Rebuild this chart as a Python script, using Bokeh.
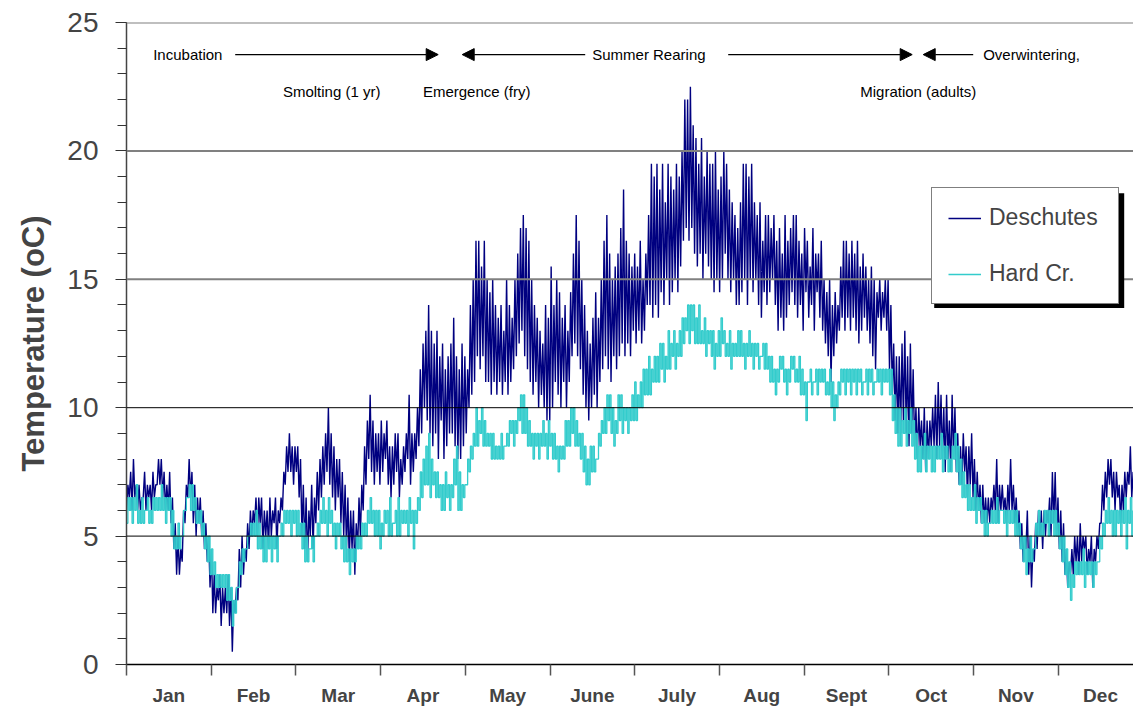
from bokeh.plotting import figure
from bokeh.models import (Range1d, FixedTicker, Span, Arrow, NormalHead, Label,
                          Legend, LegendItem, BoxAnnotation)
from bokeh.embed import file_html
from bokeh.resources import INLINE

MONTHS = ["Jan", "Feb", "Mar", "Apr", "May", "June", "July", "Aug", "Sept", "Oct", "Nov", "Dec"]
DAYS_PER_MONTH = 365 / 12
Y_TICKS = [0, 5, 10, 15, 20, 25]

# Deschutes: daily low / high (deg C)
DES_LO = [6, 6.5, 6, 6.5, 6, 6, 6.5, 6, 6.5, 6,
          6.5, 7, 7, 6.5, 6, 6, 5.5, 4.5, 3.5, 3.5,
          4, 5.5, 6.5, 6.5, 5.5, 5, 5.5, 5, 4.5, 4,
          3, 2, 2, 2.5, 1.5, 2, 2, 1.5, 0.5, 2,
          2.5, 3, 3.5, 4, 4.5, 5, 5.5, 5, 5.5, 4.5,
          5, 4.5, 5, 5.5, 4.5, 5.5, 6, 7, 7.5, 7.5,
          7, 7.5, 6.5, 5, 4.5, 4, 5, 4.5, 5.5, 6,
          6.5, 7, 7.5, 7, 6.5, 6, 6.5, 5.5, 5, 4.5,
          4, 4.5, 3.5, 4.5, 5, 6, 7, 8, 7.5, 7,
          7.5, 7, 7.5, 8, 7, 6.5, 7, 7.5, 6.5, 7,
          7.5, 8, 7, 7.5, 8, 8.5, 9, 10, 9.5, 9,
          8.5, 9, 8, 9.5, 8, 8.5, 9, 9, 8.5, 8,
          8, 8.5, 9, 10, 10.5, 11, 12, 11.5, 12, 11,
          11, 10.5, 11, 10.5, 11, 10.5, 11, 10.5, 11, 11.5,
          12, 12.5, 13, 12, 11.5, 11, 10.5, 11, 10, 10.5,
          10, 9.5, 9.5, 10, 11, 10.5, 10, 11, 10, 11,
          12, 12.5, 12, 11.5, 10.5, 10, 9.5, 10, 10.5, 10,
          11, 11.5, 12, 11.5, 11, 12, 11.5, 12, 12.5, 12,
          12.5, 12, 13, 12.5, 13, 12.5, 13, 14, 14, 13.5,
          14, 13.5, 14.5, 14, 15, 14, 14.5, 15, 14.5, 15.5,
          16.5, 17, 16.5, 17, 16, 15.5, 16, 15, 16, 15.5,
          15, 14.5, 15, 14.5, 15, 16, 15, 14.5, 15, 14,
          14, 14.5, 15, 14, 15, 14.5, 15, 14, 13.5, 14.5,
          14, 14.5, 15, 14, 13, 13.5, 13, 13.5, 14, 14.5,
          14, 13.5, 14, 13, 14.5, 13.5, 14, 13, 14.5, 13.5,
          13, 12.5, 12, 11, 12, 12.5, 13, 13.5, 13, 13.5,
          13, 13.5, 13, 12.5, 13, 13.5, 13, 12.5, 12, 11.5,
          13.5, 13, 13.5, 13, 11.5, 10.5, 9.5, 9, 9, 9.5,
          9, 8.5, 9, 8.5, 8, 8.5, 8, 7.5, 8, 8.5,
          8.5, 8, 8.5, 8, 7.5, 8, 7.5, 8, 7.5, 7,
          7, 7.5, 6.5, 7, 6.5, 6, 6, 5.5, 5.5, 5.5,
          5.5, 6, 6, 5.5, 6, 6, 5.5, 6, 6, 5.5,
          5, 4.5, 4, 4.5, 3.5, 3, 4, 4.5, 5, 4.5,
          5, 5.5, 5, 5.5, 5, 4.5, 4, 3.5, 3, 3.5,
          3.5, 4, 3.5, 4, 4.5, 3.5, 4, 3, 4, 4.5,
          5.5, 6, 6.5, 7, 6.5, 6, 6.5, 5.5, 6, 6.5, 7, 6.5]
DES_HI = [7, 7.5, 8, 7, 7, 6.5, 7.5, 7, 7, 7.5,
          7, 8, 8, 7.5, 7, 7.5, 6.5, 5.5, 5, 4.5,
          6, 7, 8, 7.5, 7, 6.5, 6.5, 6, 5.5, 5,
          4.5, 3.5, 3, 3.5, 3, 3, 3.5, 3, 2.5, 3,
          4.5, 5, 4.5, 5.5, 6, 6, 6.5, 6.5, 6.5, 6,
          6, 6.5, 6, 6.5, 6, 6.5, 7.5, 8.5, 9, 8.5,
          8.5, 8.5, 8, 7, 6.5, 6, 7, 6.5, 7.5, 8,
          8.5, 9, 10, 9, 8.5, 8, 8, 7.5, 7, 6.5,
          6, 6, 5.5, 6.5, 7, 8.5, 9.5, 10.5, 9.5, 9,
          9, 9.5, 9, 9.5, 8.5, 8.5, 9, 9, 8, 8.5,
          9, 10.5, 9, 9, 10, 11.5, 12.5, 13, 14, 13,
          12.5, 13, 12, 12.5, 11.5, 12, 12.5, 13.5, 12, 11.5,
          12.5, 12, 11.5, 14, 15, 16.5, 16.5, 15.5, 16.5, 15,
          14.5, 15, 14, 13.5, 14, 13, 15, 14, 13.5, 15,
          16, 17, 17.5, 17, 16.5, 15, 14, 13.5, 13, 12.5,
          14, 13.5, 15.5, 14, 15, 14.5, 13.5, 14, 13, 14.5,
          16, 17.5, 16.5, 15, 14, 13, 12.5, 13.5, 14.5, 13.5,
          15, 16.5, 17.5, 16, 15, 15.5, 16, 17, 18.5, 16.5,
          16, 15.5, 16, 15.5, 16.5, 15, 16, 17.5, 19.5, 19,
          19.5, 18.5, 19.5, 18, 19.5, 19, 18.5, 19.5, 19, 20,
          22, 22, 22.5, 21, 20.5, 19.5, 20.5, 19, 20, 19.5,
          19.5, 20, 18.5, 19, 20, 19.5, 18.5, 18, 17.5, 17,
          18, 19.5, 19.5, 19, 19.5, 18, 17.5, 18, 16.5, 17.5,
          17.5, 17, 17.5, 16.5, 17, 16, 17.5, 16.5, 17, 17.5,
          17.5, 16.5, 16, 17, 16.5, 15.5, 17, 16, 16, 16.5,
          15, 14.5, 15, 14, 14.5, 14, 15.5, 16.5, 16.5, 16,
          16.5, 16, 16.5, 15.5, 16, 15.5, 15, 15.5, 15, 14.5,
          15, 14.5, 15, 15, 14, 12.5, 12, 12, 12.5, 13,
          12, 12.5, 11.5, 10, 10, 9.5, 10, 9.5, 9.5, 10,
          10.5, 11, 10.5, 10, 10.5, 9.5, 10.5, 10, 9, 8.5,
          9, 8.5, 8.5, 9, 8, 7.5, 7, 7, 6.5, 6.5,
          6.5, 7, 8, 7, 7, 6.5, 7, 8, 7, 6.5,
          6, 5.5, 5, 6, 5, 4.5, 5.5, 6, 6, 6,
          6, 6.5, 7.5, 7.5, 6.5, 6, 5.5, 4.5, 4, 4.5,
          5, 5, 5.5, 5, 5, 4.5, 5, 4.5, 5, 5.5,
          7, 7.5, 8, 8, 7.5, 7.5, 7, 7, 7.5, 7.5, 8.5, 7.5]

# Hard Cr.: daily low / high (deg C)
HC_LO = [5.5, 6, 5.5, 6, 5.5, 5.5, 5.5, 6, 5.5, 5.5,
         6, 6, 6, 6, 5.5, 6, 5, 4.5, 4.5, 4.5,
         5, 6, 6.5, 6, 6, 5.5, 5.5, 5, 4.5, 4,
         3.5, 3.5, 3, 3, 3, 3, 2.5, 2.5, 1.5, 2,
         3, 3.5, 4, 4.5, 5, 5, 5, 4.5, 4.5, 4,
         4, 4.5, 4, 4.5, 4, 5, 5, 5.5, 5.5, 5,
         5.5, 5, 5, 4.5, 4, 4, 4.5, 4, 5, 5,
         5.5, 5.5, 5, 5.5, 5, 4.5, 5, 4.5, 4, 4,
         3.5, 4, 4, 4.5, 4.5, 5, 5, 5.5, 5.5, 5,
         5, 4.5, 5, 5.5, 5, 5, 5.5, 5, 5, 5.5,
         5.5, 5, 5.5, 4.5, 5.5, 6, 6.5, 7, 7, 6.5,
         7, 6.5, 6.5, 6, 6, 6.5, 6, 6.5, 7, 6,
         6, 6.5, 7, 7.5, 8, 8.5, 8.5, 9, 8.5, 8.5,
         8.5, 8, 8, 8, 8, 8, 8.5, 8.5, 9, 8.5,
         9, 9.5, 9, 9, 8.5, 8.5, 8, 8.5, 8, 8.5,
         8.5, 8, 8.5, 8, 8, 7.5, 8, 8, 8.5, 8.5,
         9, 8.5, 8.5, 8, 7.5, 7, 7, 7.5, 7.5, 8,
         8.5, 9, 9, 9.5, 9, 8.5, 9, 9.5, 9, 9.5,
         9, 9.5, 9.5, 9.5, 10, 10, 10.5, 10.5, 10.5, 11,
         11, 11, 11.5, 11, 11.5, 11.5, 12, 11.5, 12, 12,
         12.5, 13, 12.5, 13, 12.5, 12.5, 12.5, 12.5, 12, 12.5,
         12, 11.5, 12, 12, 12.5, 12, 12, 11.5, 12, 12,
         12, 12, 11.5, 12, 12, 11.5, 12, 11.5, 12, 11.5,
         11.5, 11, 11, 10.5, 11, 11.5, 11, 10.5, 11, 11.5,
         11, 11, 10.5, 10.5, 9.5, 11, 10.5, 11, 10.5, 11,
         11, 10.5, 10.5, 10, 9.5, 10, 10.5, 11, 10.5, 11,
         10.5, 11, 10.5, 11, 10.5, 11, 10.5, 11, 10.5, 11,
         11, 10.5, 11, 11, 10.5, 9.5, 9, 8.5, 8.5, 9,
         8.5, 9, 8.5, 8, 7.5, 7.5, 8, 7.5, 8, 7.5,
         7.5, 8, 8, 7.5, 8, 7.5, 7.5, 8, 7.5, 7,
         6.5, 6.5, 6, 6, 6, 5.5, 6, 5.5, 5, 5,
         5.5, 5.5, 5.5, 5.5, 6, 5.5, 5, 5.5, 5.5, 5,
         5, 4.5, 4, 3.5, 4, 4, 4.5, 5, 5, 5,
         5.5, 5, 5.5, 5, 5, 4.5, 4, 3.5, 3, 2.5,
         3, 3.5, 3.5, 3.5, 3, 3.5, 3.5, 3, 3.5, 4,
         4.5, 5, 5.5, 5.5, 5, 5, 5.5, 5, 5.5, 4.5, 5.5, 5]
HC_HI = [6.5, 6.5, 6.5, 7, 6, 6.5, 6, 6.5, 6, 6.5,
         6.5, 6.5, 7, 6.5, 6.5, 6.5, 6, 5, 5.5, 5,
         6, 6.5, 7, 7, 6.5, 6, 6, 5.5, 5, 5,
         4.5, 4, 3.5, 3.5, 3.5, 3.5, 3.5, 3, 2.5, 3,
         4, 4.5, 4.5, 5, 5.5, 5.5, 6, 5.5, 5, 5,
         5, 5, 5, 5, 5, 5.5, 6, 6, 6, 6,
         6, 6, 5.5, 5.5, 5, 4.5, 5, 5, 5.5, 6,
         6.5, 6, 6.5, 6, 5.5, 5.5, 5.5, 5, 5, 4.5,
         4.5, 4.5, 5, 5, 5.5, 5.5, 6, 6.5, 6, 6,
         6, 5.5, 6, 6, 6.5, 5.5, 6, 6.5, 6, 6,
         6, 6.5, 6, 6, 6.5, 7.5, 8, 8.5, 9, 8,
         7.5, 7.5, 7, 7, 7.5, 7, 7, 8, 8.5, 7.5,
         7, 7, 8, 8.5, 9, 10, 9.5, 10, 9.5, 9,
         9, 9, 8.5, 8.5, 9, 8.5, 9, 9.5, 9.5, 9.5,
         10, 10.5, 10.5, 10, 9.5, 9, 9, 9, 9, 9.5,
         9, 9.5, 9, 9, 8.5, 8.5, 8.5, 9.5, 9.5, 10,
         10, 9.5, 9, 9, 8.5, 8, 8.5, 8.5, 8, 9,
         9.5, 10, 10.5, 10.5, 10, 9.5, 10.5, 10.5, 10, 10,
         10, 10.5, 11, 10.5, 11, 11.5, 11.5, 12, 11.5, 12,
         12, 12.5, 12.5, 12, 13, 12.5, 13, 12.5, 13, 13.5,
         13.5, 14, 14, 14, 13.5, 14, 13, 13.5, 13, 13,
         13, 12.5, 13, 13.5, 13, 12.5, 13, 12.5, 12.5, 13,
         13, 12.5, 12.5, 13, 12.5, 12.5, 12.5, 12, 12.5, 12.5,
         12, 12, 11.5, 11.5, 12, 12, 11.5, 11.5, 12, 12,
         11.5, 12, 11.5, 11, 11, 11.5, 11, 11.5, 11.5, 11.5,
         11.5, 11, 11.5, 11, 10.5, 11, 11.5, 11.5, 11.5, 11.5,
         11.5, 11.5, 11.5, 11.5, 11, 11.5, 11.5, 11.5, 11, 11.5,
         11.5, 11.5, 11.5, 11.5, 11.5, 10.5, 10, 10, 9.5, 10,
         9.5, 10, 9.5, 9, 8.5, 8.5, 9, 8.5, 8.5, 8.5,
         8.5, 8.5, 9, 8.5, 8.5, 8, 8.5, 9, 8.5, 8,
         7.5, 7, 7, 6.5, 7, 6.5, 6.5, 6, 6, 5.5,
         6, 6, 6.5, 6, 6, 6, 6, 6, 6, 6,
         5.5, 5, 5, 4.5, 5, 4.5, 5.5, 6, 5.5, 6,
         6, 6, 6, 6, 5.5, 5, 5, 4.5, 4, 3.5,
         4, 4, 4, 4.5, 4, 4, 4, 4, 4, 5,
         5.5, 6, 6.5, 6, 6, 6, 6, 6, 6.5, 6, 6.5, 6]


def daily_series(lo, hi):
    xs, ys = [], []
    for d, (a, b) in enumerate(zip(lo, hi)):
        xs += [d / DAYS_PER_MONTH, (d + 0.5) / DAYS_PER_MONTH]
        ys += [a, b]
    return xs, ys


FONT = "Liberation Sans"
PX_PER_MONTH = 84.7
LEFT, TOP, FRAME_H = 126, 22, 644
W, H = 1133, 708

p = figure(width=W, height=H, output_backend="svg", toolbar_location=None,
           x_range=Range1d(0, (W - LEFT) / PX_PER_MONTH), y_range=Range1d(0, 25),
           min_border_left=LEFT, min_border_right=0, min_border_top=TOP,
           min_border_bottom=H - TOP - FRAME_H)
p.outline_line_color = None
p.xgrid.visible = False
p.ygrid.visible = False
p.background_fill_color = "white"

# horizontal reference lines
for v in Y_TICKS[1:]:
    dark = v in (5, 10)
    p.add_layout(Span(location=v, dimension="width",
                      line_color="black" if dark else "#808080",
                      line_width=1 if dark else 2))

xd, yd = daily_series(DES_LO, DES_HI)
xh, yh = daily_series(HC_LO, HC_HI)
r_des = p.line(xd, yd, line_color="#000080", line_width=1.4)
r_hc = p.step(xh, yh, mode="after", line_color="#33CCCC", line_width=1.3)

# x axis: month boundaries as ticks, month names centred between them
xa = p.xaxis[0]
xa.ticker = FixedTicker(ticks=[i + 0.5 for i in range(12)],
                        minor_ticks=list(range(13)))
xa.major_label_overrides = {i + 0.5: m for i, m in enumerate(MONTHS)}
xa.major_tick_line_color = None
xa.major_tick_out = 11
xa.major_tick_in = 0
xa.minor_tick_line_color = "#555555"
xa.minor_tick_line_width = 1.5
xa.minor_tick_out = 11
xa.minor_tick_in = 0
xa.axis_line_color = "black"
xa.axis_line_width = 1.5
xa.major_label_text_font = FONT
xa.major_label_text_font_style = "bold"
xa.major_label_text_font_size = "19px"
xa.major_label_standoff = 9

ya = p.yaxis[0]
ya.ticker = FixedTicker(ticks=Y_TICKS, minor_ticks=list(range(26)))
ya.major_tick_out = 11
ya.major_tick_in = 0
ya.minor_tick_out = 9
ya.minor_tick_in = 0
ya.major_tick_line_color = "#333333"
ya.minor_tick_line_color = "#333333"
ya.axis_line_color = "#444444"
ya.axis_line_width = 1.5
ya.major_label_text_font = FONT
ya.major_label_text_font_size = "28px"
ya.major_label_standoff = 17
ya.axis_label = "Temperature (oC)"
ya.axis_label_text_font = FONT
ya.axis_label_text_font_style = "bold"
ya.axis_label_text_font_size = "31px"
ya.axis_label_standoff = 13


def mx(px):
    return (px - 126.3) / PX_PER_MONTH


ROW1, ROW2 = 23.75, 22.3
label_kw = dict(text_font=FONT, text_font_size="15px", text_color="black", text_baseline="middle")
p.add_layout(Label(x=mx(153), y=ROW1, text="Incubation", text_align="left", **label_kw))
p.add_layout(Label(x=mx(592), y=ROW1, text="Summer Rearing", text_align="left", **label_kw))
p.add_layout(Label(x=mx(983), y=ROW1, text="Overwintering,", text_align="left", **label_kw))
p.add_layout(Label(x=mx(331.5), y=ROW2, text="Smolting (1 yr)", text_align="center", **label_kw))
p.add_layout(Label(x=mx(476.5), y=ROW2, text="Emergence (fry)", text_align="center", **label_kw))
p.add_layout(Label(x=mx(918), y=ROW2, text="Migration (adults)", text_align="center", **label_kw))

for x0, x1 in [(235, 438), (585, 462), (728, 912), (973, 923)]:
    p.add_layout(Arrow(end=NormalHead(size=12, fill_color="black", line_color="black"),
                       x_start=mx(x0), y_start=ROW1, x_end=mx(x1), y_end=ROW1,
                       line_color="black", line_width=1.2))

# legend shadow + legend
p.add_layout(BoxAnnotation(left=mx(934), right=mx(1124), top=(665.3 - 193) / 25.74,
                           bottom=(665.3 - 308) / 25.74, fill_color="black", fill_alpha=1,
                           line_color=None))
legend = Legend(items=[LegendItem(label="Deschutes", renderers=[r_des]),
                       LegendItem(label="Hard Cr.", renderers=[r_hc])],
                location=(805, 360), orientation="vertical",
                label_text_font=FONT, label_text_font_size="23px",
                label_height=22, glyph_height=22, glyph_width=33, label_width=113,
                spacing=29, padding=16, margin=0, label_standoff=8,
                border_line_color="black", border_line_width=1.5,
                background_fill_color="white", background_fill_alpha=1)
p.add_layout(legend)

open("out.html", "w").write(file_html(p, INLINE))
